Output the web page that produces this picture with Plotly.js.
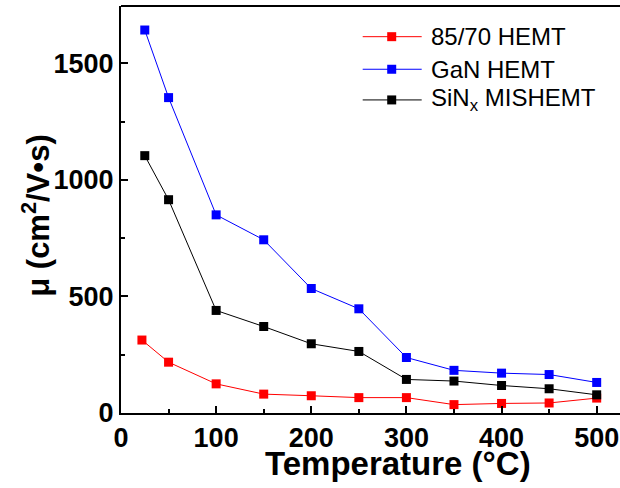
<!DOCTYPE html>
<html>
<head>
<meta charset="utf-8">
<script src="https://cdn.plot.ly/plotly-3.0.1.min.js"></script>
<style>html,body{margin:0;padding:0;background:#fff;}#chart{width:620px;height:488px;}</style>
</head>
<body>
<div id="chart"></div>
<script>
var seriesNames = ["85/70 HEMT", "GaN HEMT", "SiN<sub>x</sub> MISHEMT"];
var seriesColors = ["#ff0000", "#0000ff", "#000000"];
var tempRed = [22, 50, 100, 150, 200, 250, 300, 350, 400, 450, 500];
var temp = [25, 50, 100, 150, 200, 250, 300, 350, 400, 450, 500];
var mobRed = [313, 218, 125, 81, 74, 66, 66, 36, 41, 43, 64];
var mobGaN = [1643, 1353, 850, 743, 534, 447, 238, 183, 171, 165, 131];
var mobSiN = [1104, 915, 440, 371, 297, 264, 144, 137, 118, 104, 78];
var xTicks = [0, 100, 200, 300, 400, 500];
var yTicks = [0, 500, 1000, 1500];

var FONT = "Liberation Sans, Arial, Helvetica, sans-serif";
var xs = [tempRed, temp, temp];
var ys = [mobRed, mobGaN, mobSiN];
// draw order: blue, red, black on top
var order = [1, 0, 2];
var traces = order.map(function (i) {
  return {
    x: xs[i], y: ys[i], name: seriesNames[i], type: "scatter", mode: "lines+markers",
    line: {color: seriesColors[i], width: 1},
    marker: {symbol: "square", size: 9, color: seriesColors[i]},
    showlegend: false, hoverinfo: "skip"
  };
});

var shapes = [
  {type: "line", xref: "paper", yref: "paper", x0: 0, x1: 1.05, y0: 1, y1: 1, line: {color: "#000", width: 2}}
];
var annotations = [
  {xref: "paper", yref: "paper", x: 0.556, y: -0.073, xanchor: "center", yanchor: "top", showarrow: false,
   text: "Temperature (°C)", font: {family: FONT, size: 33, weight: "bold", color: "#000"}},
  {xref: "paper", yref: "paper", x: -0.172, y: 0.485, xanchor: "center", yanchor: "middle", showarrow: false,
   textangle: -90, text: "μ (cm<sup>2</sup>/V•s)", font: {family: FONT, size: 31, weight: "bold", color: "#000"}}
];
// legend: line sample x 362.7..421.7, marker at 391.7, text at 429
var legRowsY = [36.7, 69.3, 100];
for (var i = 0; i < 3; i++) {
  var yp = 1 - (legRowsY[i] - 6) / 407.3;
  var x0 = (362.7 - 121) / 499, x1 = (421.7 - 121) / 499, xm = (391.7 - 121) / 499;
  shapes.push({type: "line", xref: "paper", yref: "paper", x0: x0, x1: x1, y0: yp, y1: yp,
    line: {color: seriesColors[i], width: 1}});
  shapes.push({type: "rect", xref: "paper", yref: "paper", x0: xm - 4.5 / 499, x1: xm + 4.5 / 499,
    y0: yp - 4.5 / 407.3, y1: yp + 4.5 / 407.3, fillcolor: seriesColors[i], line: {width: 0}});
  annotations.push({xref: "paper", yref: "paper", x: (429 - 121) / 499, y: yp, xanchor: "left", yanchor: "middle",
    showarrow: false, text: seriesNames[i], font: {family: FONT, size: 24, color: "#000"}});
}

var layout = {
  width: 620, height: 488,
  margin: {l: 121, r: 0, t: 6, b: 75},
  paper_bgcolor: "#fff", plot_bgcolor: "#fff",
  showlegend: false,
  xaxis: {
    range: [0, 524.5], tickvals: xTicks, ticktext: xTicks.map(String),
    ticks: "inside", ticklen: 7, tickwidth: 2, tickcolor: "#000",
    minor: {dtick: 50, tick0: 0, ticks: "inside", ticklen: 4, tickwidth: 2, tickcolor: "#000"},
    showline: true, linecolor: "#000", linewidth: 2, showgrid: false, zeroline: false,
    ticklabeloverflow: "allow",
    tickfont: {family: FONT, size: 27, weight: "bold", color: "#000"}
  },
  yaxis: {
    range: [0, 1746], tickvals: yTicks, ticktext: yTicks.map(String),
    ticks: "inside", ticklen: 7, tickwidth: 2, tickcolor: "#000",
    minor: {dtick: 250, tick0: 0, ticks: "inside", ticklen: 4, tickwidth: 2, tickcolor: "#000"},
    showline: true, linecolor: "#000", linewidth: 2, showgrid: false, zeroline: false,
    ticklabeloverflow: "allow",
    tickfont: {family: FONT, size: 27, weight: "bold", color: "#000"}
  },
  shapes: shapes,
  annotations: annotations
};
Plotly.newPlot("chart", traces, layout, {displayModeBar: false, staticPlot: true});
</script>
</body>
</html>
